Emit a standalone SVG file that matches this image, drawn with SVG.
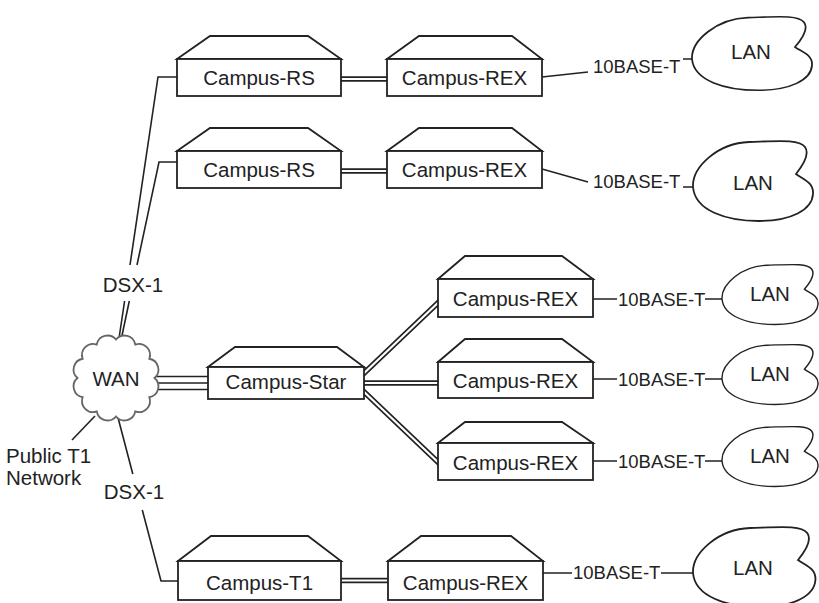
<svg xmlns="http://www.w3.org/2000/svg" width="819" height="603" viewBox="0 0 819 603">
<defs>
<style>
.box{fill:#fff;stroke:#222;stroke-width:1.8;stroke-linejoin:miter}
.ln{fill:none;stroke:#222;stroke-width:1.6}
.db{fill:none;stroke:#222;stroke-width:5.5}
.dw{fill:none;stroke:#fff;stroke-width:2.2}
.lbl{font-family:"Liberation Sans",Arial,sans-serif;font-size:20.5px;fill:#222}
.mid{text-anchor:middle}
.t10{font-size:18.5px}
.cloud{fill:#fff;stroke:#222;stroke-width:1.8}
.wan{fill:#fff;stroke:#666;stroke-width:1.8}
</style>
<path id="lanShape" d="M0,0 C-1,-20 25,-44 56,-45 C86,-46 106,-48 112,-40 C117,-33 111,-23 103,-13 C109,-8 121,-5 120,7 C119,23 98,34 66,34 C34,34 2,24 0,0 Z"/>
</defs>
<rect width="819" height="603" fill="#fff"/>

<g id="connectors">
  <path class="ln" d="M180,77 L158,77 L130,265 M124.6,301 L118,345"/>
  <path class="ln" d="M180,162 L159,162 L137,265 M129.3,301 L120,345"/>
  <path class="ln" d="M116,410 L132.8,474 M142.3,510 L161,581 L180,581"/>
  <path class="ln" d="M72,440 L95,416"/>
  <path class="ln" d="M150,376.5 L212,376.5 M150,383 L212,383 M150,389.5 L212,389.5"/>
  <path class="db" d="M338,79 L390,79 M338,171 L390,171 M338,580.5 L391,580.5 M360,377 L442,299 M360,383 L442,383 M360,388 L442,466"/>
  <path class="dw" d="M338,79 L390,79 M338,171 L390,171 M338,580.5 L391,580.5 M360,377 L442,299 M360,383 L442,383 M360,388 L442,466"/>
  <path class="ln" d="M542,77 L588,72 M683,59 L694,59"/>
  <path class="ln" d="M542,169 L588,182 M683,187 L695,187"/>
  <path class="ln" d="M593,299 L617,299 M705,299 L724,299"/>
  <path class="ln" d="M593,379 L617,379 M705,379 L724,379"/>
  <path class="ln" d="M593,461 L617,461 M705,461 L724,461"/>
  <path class="ln" d="M543,573 L572,573 M661,573 L695,573"/>
</g>

<g id="labels">
  <text class="lbl mid" x="133" y="292">DSX-1</text>
  <text class="lbl mid" x="134" y="499">DSX-1</text>
  <text class="lbl" x="6" y="463">Public T1</text>
  <text class="lbl" x="6" y="485">Network</text>
  <text class="lbl t10" x="593" y="73">10BASE-T</text>
  <text class="lbl t10" x="593" y="188">10BASE-T</text>
  <text class="lbl t10" x="618" y="306">10BASE-T</text>
  <text class="lbl t10" x="618" y="386">10BASE-T</text>
  <text class="lbl t10" x="618" y="468">10BASE-T</text>
  <text class="lbl t10" x="573" y="579">10BASE-T</text>
</g>

<g id="wan">
  <path class="wan" d="M116,339.5 A11,11 0 0 1 135.25,344.66 A11,11 0 0 1 149.34,358.75 A11,11 0 0 1 154.5,378 A11,11 0 0 1 149.34,397.25 A11,11 0 0 1 135.25,411.34 A11,11 0 0 1 116,416.5 A11,11 0 0 1 96.75,411.34 A11,11 0 0 1 82.66,397.25 A11,11 0 0 1 77.5,378 A11,11 0 0 1 82.66,358.75 A11,11 0 0 1 96.75,344.66 A11,11 0 0 1 116,339.5 Z"/>
  <text class="lbl mid" x="116" y="386">WAN</text>
</g>

<g id="campus-rs-1">
  <polygon class="box" points="177,59 210,36 308,36 341,59"/>
  <rect class="box" x="177" y="59" width="164" height="37"/>
  <text class="lbl mid" x="259" y="85">Campus-RS</text>
</g>
<g id="campus-rex-1">
  <polygon class="box" points="387,59 419,36 512,36 542,59"/>
  <rect class="box" x="387" y="59" width="155" height="37"/>
  <text class="lbl mid" x="464.5" y="85">Campus-REX</text>
</g>
<g id="campus-rs-2">
  <polygon class="box" points="177,151 210,128 308,128 341,151"/>
  <rect class="box" x="177" y="151" width="164" height="37"/>
  <text class="lbl mid" x="259" y="177">Campus-RS</text>
</g>
<g id="campus-rex-2">
  <polygon class="box" points="387,151 419,128 512,128 542,151"/>
  <rect class="box" x="387" y="151" width="155" height="37"/>
  <text class="lbl mid" x="464.5" y="177">Campus-REX</text>
</g>
<g id="campus-star">
  <polygon class="box" points="208,367 235,347 337,347 364,367"/>
  <rect class="box" x="208" y="367" width="156" height="32"/>
  <text class="lbl mid" x="286" y="389">Campus-Star</text>
</g>
<g id="campus-rex-a">
  <polygon class="box" points="438,279 465,256 562,256 593,279"/>
  <rect class="box" x="438" y="279" width="155" height="38"/>
  <text class="lbl mid" x="515.5" y="306">Campus-REX</text>
</g>
<g id="campus-rex-b">
  <polygon class="box" points="438,362 465,339 562,339 593,362"/>
  <rect class="box" x="438" y="362" width="155" height="36"/>
  <text class="lbl mid" x="515.5" y="388">Campus-REX</text>
</g>
<g id="campus-rex-c">
  <polygon class="box" points="438,443 465,422 562,422 593,443"/>
  <rect class="box" x="438" y="443" width="155" height="37"/>
  <text class="lbl mid" x="515.5" y="470">Campus-REX</text>
</g>
<g id="campus-t1">
  <polygon class="box" points="178,561 211,536 308,536 341,561"/>
  <rect class="box" x="178" y="561" width="163" height="39"/>
  <text class="lbl mid" x="259.5" y="590">Campus-T1</text>
</g>
<g id="campus-rex-d">
  <polygon class="box" points="388,561 421,536 511,536 543,561"/>
  <rect class="box" x="388" y="561" width="155" height="39"/>
  <text class="lbl mid" x="465.5" y="590">Campus-REX</text>
</g>

<g id="lan-1">
  <use href="#lanShape" class="cloud" transform="translate(692,59) scale(1,0.92)"/>
  <text class="lbl mid" x="751" y="59">LAN</text>
</g>
<g id="lan-2">
  <use href="#lanShape" class="cloud" transform="translate(693,187)"/>
  <text class="lbl mid" x="753" y="190">LAN</text>
</g>
<g id="lan-a">
  <use href="#lanShape" class="cloud" transform="translate(722,299) scale(0.8,0.75)"/>
  <text class="lbl mid" x="770" y="301">LAN</text>
</g>
<g id="lan-b">
  <use href="#lanShape" class="cloud" transform="translate(722,379) scale(0.8,0.75)"/>
  <text class="lbl mid" x="770" y="381">LAN</text>
</g>
<g id="lan-c">
  <use href="#lanShape" class="cloud" transform="translate(722,461) scale(0.8,0.75)"/>
  <text class="lbl mid" x="770" y="463">LAN</text>
</g>
<g id="lan-d">
  <use href="#lanShape" class="cloud" transform="translate(693,573) scale(1.02,1)"/>
  <text class="lbl mid" x="753" y="575">LAN</text>
</g>
</svg>
